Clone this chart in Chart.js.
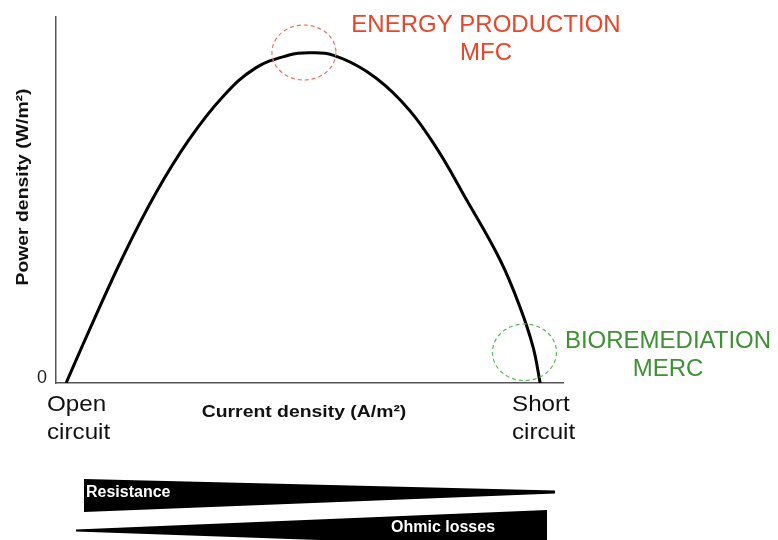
<!DOCTYPE html>
<html>
<head>
<meta charset="utf-8">
<script src="https://cdn.jsdelivr.net/npm/chart.js@4.4.1/dist/chart.umd.min.js"></script>
<style>
  html, body { margin: 0; padding: 0; background: #fff; }
  #wrap { width: 778px; height: 540px; }
</style>
</head>
<body>
<div id="wrap"><canvas id="pcurve"></canvas></div>
<script>
// polarization-type power curve (arbitrary units 0..100)
const currentDensity = [2.0, 6.6, 13.2, 19.7, 26.2, 32.9, 39.4, 46.0, 49.9, 54.6, 61.3, 67.9, 74.4, 81.0, 87.6, 91.5, 94.1, 95.5]
const powerDensity = [0, 14.5, 34.5, 51.9, 66.4, 78.2, 86.1, 89.6, 90.2, 89.6, 85.1, 77.3, 65.6, 50.0, 33.6, 20.8, 9.8, 0]

const xTitle = 'Current density (A/m\u00B2)'
const yTitle = 'Power density (W/m\u00B2)'
const yTickLabels = ['0']
const xEndLabels = [['Open', 'circuit'], ['Short', 'circuit']]

// highlighted regions: [x, y] in data units
const zoneMFC = [48.9, 90.3]
const zoneMERC = [92.4, 8.4]
const labelMFC = ['ENERGY PRODUCTION', 'MFC']
const labelMERC = ['BIOREMEDIATION', 'MERC']
const wedgeLabels = ['Resistance', 'Ohmic losses']

const FONT = '"Liberation Sans", Arial, sans-serif'

function txt(ctx, s, x, y, font, color, align, stretch) {
  ctx.save()
  ctx.font = font
  ctx.fillStyle = color
  ctx.textBaseline = 'alphabetic'
  ctx.textAlign = align || 'left'
  ctx.translate(x, y)
  ctx.scale(stretch || 1, 1)
  ctx.fillText(s, 0, 0)
  ctx.restore()
}

function dashedEllipse(ctx, cx, cy, rx, ry, color) {
  ctx.save()
  ctx.strokeStyle = color
  ctx.lineWidth = 1.2
  ctx.setLineDash([4, 3])
  ctx.beginPath()
  ctx.ellipse(cx, cy, rx, ry, 0, 0, Math.PI * 2)
  ctx.stroke()
  ctx.restore()
}

const decorations = {
  id: 'decorations',
  afterDraw(chart) {
    const ctx = chart.ctx
    const xs = chart.scales.x
    const ys = chart.scales.y
    const y0 = ys.getPixelForValue(0)

    // zero tick
    txt(ctx, yTickLabels[0], 47, y0, '18px ' + FONT, '#222', 'right')

    // open / short circuit labels
    txt(ctx, xEndLabels[0][0], 47, y0 + 28, '22px ' + FONT, '#111', 'left', 1.1)
    txt(ctx, xEndLabels[0][1], 47, y0 + 56, '22px ' + FONT, '#111', 'left', 1.1)
    txt(ctx, xEndLabels[1][0], 512, y0 + 28, '22px ' + FONT, '#111', 'left', 1.1)
    txt(ctx, xEndLabels[1][1], 512, y0 + 56, '22px ' + FONT, '#111', 'left', 1.1)

    // axis titles
    txt(ctx, xTitle, 304, y0 + 34, 'bold 17px ' + FONT, '#111', 'center', 1.14)
    ctx.save()
    ctx.translate(28, 187)
    ctx.rotate(-Math.PI / 2)
    txt(ctx, yTitle, 0, 0, 'bold 17px ' + FONT, '#111', 'center', 1.14)
    ctx.restore()

    // highlighted zones
    dashedEllipse(ctx, xs.getPixelForValue(zoneMFC[0]), ys.getPixelForValue(zoneMFC[1]), 32, 27.5, '#f0705e')
    dashedEllipse(ctx, xs.getPixelForValue(zoneMERC[0]), ys.getPixelForValue(zoneMERC[1]), 32, 28.3, '#5cb85c')

    txt(ctx, labelMFC[0], 486, 32, '24px ' + FONT, '#ec4428', 'center')
    txt(ctx, labelMFC[1], 486, 60, '24px ' + FONT, '#ec4428', 'center')
    txt(ctx, labelMERC[0], 668, 348, '24px ' + FONT, '#3f9035', 'center')
    txt(ctx, labelMERC[1], 668, 376, '24px ' + FONT, '#3f9035', 'center')

    // resistance / ohmic losses wedges
    ctx.save()
    ctx.fillStyle = '#000'
    ctx.beginPath()
    ctx.moveTo(84, 479)
    ctx.lineTo(555, 490.5)
    ctx.lineTo(555, 493.5)
    ctx.lineTo(84, 512)
    ctx.closePath()
    ctx.fill()
    ctx.beginPath()
    ctx.moveTo(76, 529.5)
    ctx.lineTo(547, 510)
    ctx.lineTo(547, 548)
    ctx.lineTo(76, 531.5)
    ctx.closePath()
    ctx.fill()
    ctx.restore()
    txt(ctx, wedgeLabels[0], 86, 497, 'bold 16px ' + FONT, '#fff', 'left')
    txt(ctx, wedgeLabels[1], 391, 532, 'bold 16px ' + FONT, '#fff', 'left')
  }
}

new Chart('pcurve', {
  type: 'line',
  data: {
    datasets: [
      {
        data: currentDensity.map((x, i) => ({ x: x, y: powerDensity[i] })),
        borderColor: '#000',
        borderWidth: 3,
        pointRadius: 0,
        fill: false,
        tension: 0.4,
      },
    ],
  },
  options: {
    responsive: true,
    maintainAspectRatio: false,
    animation: false,
    layout: { padding: { left: 56, top: 17, right: 215, bottom: 157 } },
    plugins: { legend: { display: false }, tooltip: { enabled: false } },
    scales: {
      x: {
        type: 'linear',
        min: 0,
        max: 100,
        grid: { display: false, drawTicks: false },
        ticks: { display: false },
        border: { display: true, color: '#555', width: 1.5 },
      },
      y: {
        min: 0,
        max: 100,
        grid: { display: false, drawTicks: false },
        ticks: { display: false },
        border: { display: true, color: '#555', width: 1.5 },
      },
    },
  },
  plugins: [decorations],
})
</script>
</body>
</html>
